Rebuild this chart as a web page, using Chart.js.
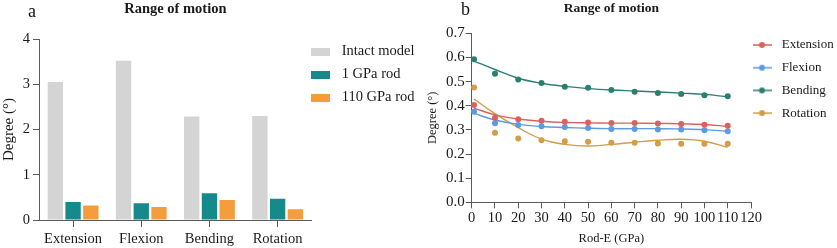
<!DOCTYPE html>
<html><head><meta charset="utf-8">
<script src="https://cdn.jsdelivr.net/npm/chart.js@4.4.1/dist/chart.umd.min.js"></script>
<style>
html,body{margin:0;padding:0;background:#fff;}
body{width:837px;height:248px;position:relative;overflow:hidden;font-family:'Liberation Serif','Times New Roman',serif;}
.panel{position:absolute;top:0;}
.tag{position:absolute;font-size:18px;line-height:18px;color:#111;font-family:'Liberation Serif','Times New Roman',serif;}
</style></head><body>
<div class="panel" style="left:0;width:420px;height:248px"><canvas id="chartA" width="420" height="248"></canvas></div>
<div class="panel" style="left:420px;width:417px;height:248px"><canvas id="chartB" width="417" height="248"></canvas></div>
<div class="tag" style="left:28px;top:2px">a</div>
<div class="tag" style="left:461px;top:0px">b</div>
<script>
// ---------- Panel a data ----------
const movements = ['Extension', 'Flexion', 'Bending', 'Rotation'];
const barSeriesNames = ['Intact model', '1 GPa rod', '110 GPa rod'];
const intactModel = [3.05, 3.52, 2.29, 2.30];
const rod1GPa = [0.40, 0.37, 0.59, 0.47];
const rod110GPa = [0.32, 0.29, 0.44, 0.24];
const barYTicks = [0, 1, 2, 3, 4];

// ---------- Panel b data ----------
const rodE = [1, 10, 20, 30, 40, 50, 60, 70, 80, 90, 100, 110];
const lineSeriesNames = ['Extension', 'Flexion', 'Bending', 'Rotation'];
const extension = [0.403, 0.350, 0.344, 0.338, 0.334, 0.331, 0.328, 0.328, 0.326, 0.324, 0.321, 0.317];
const flexion   = [0.375, 0.327, 0.320, 0.315, 0.312, 0.308, 0.304, 0.304, 0.302, 0.302, 0.298, 0.294];
const bending   = [0.592, 0.532, 0.509, 0.494, 0.479, 0.474, 0.465, 0.458, 0.453, 0.449, 0.443, 0.439];
const rotation  = [0.476, 0.288, 0.264, 0.257, 0.253, 0.251, 0.247, 0.247, 0.244, 0.243, 0.243, 0.243];
// fitted curves at the same Rod-E positions
const extensionFit = [0.390, 0.362, 0.345, 0.336, 0.331, 0.329, 0.328, 0.328, 0.327, 0.325, 0.322, 0.315];
const flexionFit   = [0.368, 0.341, 0.323, 0.314, 0.310, 0.307, 0.305, 0.305, 0.305, 0.304, 0.301, 0.294];
const bendingFit   = [0.585, 0.550, 0.514, 0.493, 0.480, 0.471, 0.465, 0.461, 0.457, 0.452, 0.447, 0.437];
const rotationFit  = [0.428, 0.367, 0.309, 0.262, 0.240, 0.233, 0.240, 0.249, 0.257, 0.261, 0.253, 0.228];

const FONT = "'Liberation Serif','Times New Roman',serif";
const TXT = '#1a1a1a';
const AXIS = '#5a5a5a';
Chart.defaults.font.family = FONT;
Chart.defaults.color = TXT;

const barColors = ['#d4d4d4', '#16898b', '#f59d3d'];
const lineColors = ['#d9625f', '#5b9be0', '#2b7f71', '#d39c45'];

function rectMarker(color) {
  const c = document.createElement('canvas');
  c.width = 19; c.height = 8;
  const g = c.getContext('2d');
  g.fillStyle = color; g.fillRect(0, 0, 19, 8);
  return c;
}
function lineDotMarker(color) {
  const c = document.createElement('canvas');
  c.width = 19; c.height = 8;
  const g = c.getContext('2d');
  g.strokeStyle = color; g.lineWidth = 1.5;
  g.beginPath(); g.moveTo(0, 4); g.lineTo(19, 4); g.stroke();
  g.fillStyle = color; g.beginPath(); g.arc(9.5, 4, 3, 0, Math.PI * 2); g.fill();
  return c;
}

const placeLegend = {
  id: 'placeLegend',
  afterLayout(chart, args, opts) {
    const lg = chart.legend;
    if (!lg) return;
    lg.left = opts.left; lg.top = opts.top;
    lg.right = chart.width; lg.bottom = chart.height;
    lg.width = lg.right - lg.left; lg.height = lg.bottom - lg.top;
  }
};

// ---------- Chart a ----------
new Chart(document.getElementById('chartA'), {
  type: 'bar',
  data: {
    labels: movements,
    datasets: [intactModel, rod1GPa, rod110GPa].map((d, i) => ({
      label: barSeriesNames[i], data: d, backgroundColor: barColors[i], borderWidth: 0,
      categoryPercentage: 0.78, barPercentage: 0.865
    }))
  },
  plugins: [placeLegend],
  options: {
    responsive: false, animation: false, events: [],
    layout: { padding: { left: 0, right: 108.3, top: 0, bottom: 0 } },
    plugins: {
      tooltip: { enabled: false },
      placeLegend: { left: 297.65, top: 35.75 },
      title: {
        display: true, text: 'Range of motion', fullSize: false, color: TXT,
        font: { size: 14.5, weight: 'bold', family: FONT }, padding: { top: 1, bottom: 20.6 }
      },
      legend: {
        position: 'chartArea', align: 'start',
        labels: {
          usePointStyle: true, pointStyleWidth: 28.3, padding: 8.5, color: TXT,
          font: { size: 14.5, family: FONT },
          generateLabels: (chart) => chart.data.datasets.map((ds, i) => ({
            text: ds.label, pointStyle: rectMarker(barColors[i]), fillStyle: barColors[i],
            strokeStyle: barColors[i], lineWidth: 0, hidden: false, datasetIndex: i, fontColor: TXT
          }))
        }
      }
    },
    scales: {
      x: {
        afterFit: (s) => { s.height = 28; },
        grid: { display: true, drawOnChartArea: false, drawTicks: true, tickLength: 7, color: AXIS, offset: false },
        border: { display: true, color: AXIS, width: 1 },
        ticks: { color: TXT, font: { size: 14.5, family: FONT }, padding: 3, maxRotation: 0 }
      },
      y: {
        min: 0, max: 4,
        afterFit: (s) => { s.width = 39; },
        afterBuildTicks: (s) => { s.ticks = barYTicks.map(v => ({ value: v })); },
        grid: { display: true, drawOnChartArea: false, drawTicks: true, tickLength: 6, color: AXIS },
        border: { display: true, color: AXIS, width: 1 },
        ticks: { color: TXT, font: { size: 14.5, family: FONT }, padding: 3 },
        title: { display: true, text: 'Degree (°)', color: TXT, font: { size: 15, family: FONT }, padding: { top: 0, bottom: 0 } }
      }
    }
  }
});

// ---------- Chart b ----------
const pointSeries = [extension, flexion, bending, rotation];
const fitSeries = [extensionFit, flexionFit, bendingFit, rotationFit];
const toXY = (arr) => rodE.map((x, i) => ({ x: x, y: arr[i] }));
const datasetsB = [];
pointSeries.forEach((arr, i) => datasetsB.push({
  label: lineSeriesNames[i], data: toXY(arr), showLine: false,
  pointRadius: 3, pointBorderWidth: 0, backgroundColor: lineColors[i], borderColor: lineColors[i], clip: false
}));
fitSeries.forEach((arr, i) => datasetsB.push({
  label: lineSeriesNames[i] + ' fit', data: toXY(arr), showLine: true, pointRadius: 0,
  borderColor: lineColors[i], backgroundColor: lineColors[i], borderWidth: 1.4, tension: 0.4, fill: false, clip: false
}));

new Chart(document.getElementById('chartB'), {
  type: 'scatter',
  data: { datasets: datasetsB },
  plugins: [placeLegend],
  options: {
    responsive: false, animation: false, events: [],
    layout: { padding: { left: 0, right: 86, top: 0, bottom: 0 } },
    plugins: {
      tooltip: { enabled: false },
      placeLegend: { left: 319.1, top: 28.8 },
      title: {
        display: true, text: 'Range of motion', fullSize: false, color: TXT,
        font: { size: 13.5, weight: 'bold', family: FONT }, padding: { top: 0.5, bottom: 16.6 }
      },
      legend: {
        position: 'chartArea', align: 'start',
        labels: {
          usePointStyle: true, pointStyleWidth: 26.4, padding: 9.7, color: TXT,
          font: { size: 13, family: FONT },
          generateLabels: (chart) => lineSeriesNames.map((name, i) => ({
            text: name, pointStyle: lineDotMarker(lineColors[i]), fillStyle: lineColors[i],
            strokeStyle: lineColors[i], lineWidth: 0, hidden: false, datasetIndex: i, fontColor: TXT
          }))
        }
      }
    },
    scales: {
      x: {
        type: 'linear', min: 0, max: 120,
        afterFit: (s) => { s.height = 45.7; },
        ticks: { stepSize: 10, color: TXT, font: { size: 14.5, family: FONT }, padding: 1, maxRotation: 0, autoSkip: false },
        grid: { display: true, drawOnChartArea: false, drawTicks: true, tickLength: 6, color: AXIS },
        border: { display: true, color: AXIS, width: 1 },
        title: { display: true, text: 'Rod-E (GPa)', color: TXT, font: { size: 12.5, family: FONT }, padding: { top: 0, bottom: 2 } }
      },
      y: {
        type: 'linear', min: 0, max: 0.7,
        afterFit: (s) => { s.width = 51.7; },
        ticks: { stepSize: 0.1, color: TXT, font: { size: 15, family: FONT }, padding: 1, callback: (v) => Number(v).toFixed(1) },
        grid: { display: true, drawOnChartArea: false, drawTicks: true, tickLength: 6, color: AXIS },
        border: { display: true, color: AXIS, width: 1 },
        title: { display: true, text: 'Degree (°)', color: TXT, font: { size: 12.5, family: FONT }, padding: { top: 5, bottom: 0 } }
      }
    }
  }
});
</script>
</body></html>
